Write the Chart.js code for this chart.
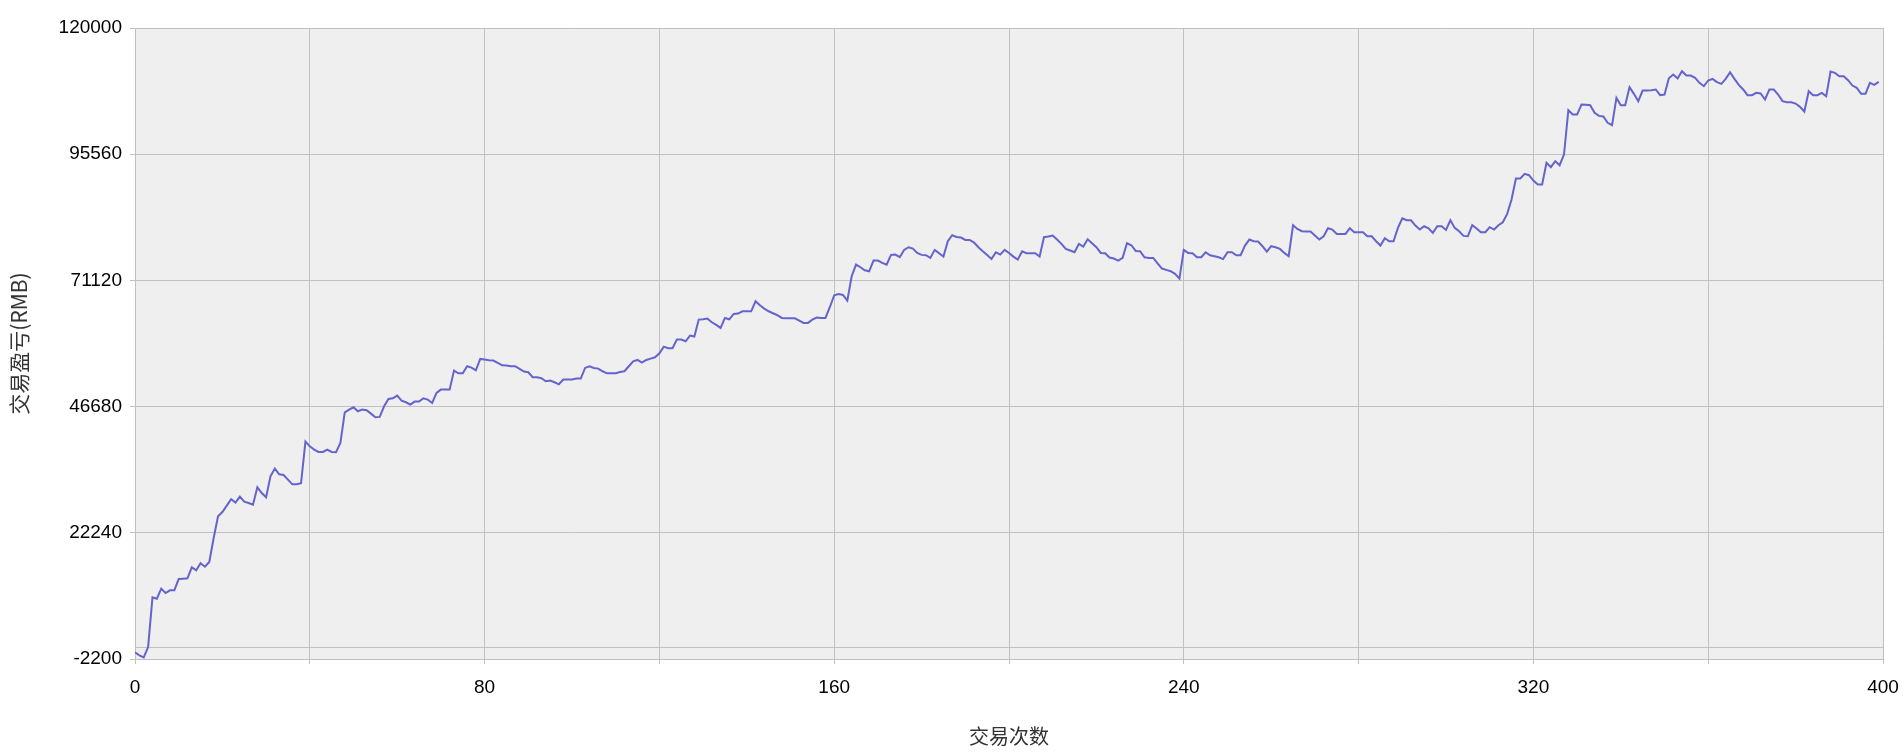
<!DOCTYPE html>
<html>
<head>
<meta charset="utf-8">
<script src="https://cdn.jsdelivr.net/npm/chart.js@4/dist/chart.umd.min.js"></script>
<style>
  html, body { margin: 0; padding: 0; background: #ffffff; }
  #wrap { width: 1904px; height: 756px; position: relative; }
</style>
</head>
<body>
<div id="wrap"><canvas id="c" width="1904" height="756"></canvas></div>
<script>
// Cumulative trade profit (RMB), one value per trade, trades 0..399
const profit = [
  -900, -1490, -1880, 120, 9740, 9480, 11420, 10580, 11100, 11100,
  13290, 13360, 13420, 15550, 14970, 16330, 15680, 16590, 21240, 25430,
  26270, 27510, 28730, 28080, 29240, 28270, 28020, 27690, 31050, 29950,
  29110, 33180, 34670, 33570, 33440, 32540, 31630, 31630, 31830, 39900,
  38990, 38350, 37890, 37890, 38350, 37890, 37830, 39640, 45580, 46100,
  46550, 45770, 46100, 45970, 45320, 44610, 44680, 46740, 48160, 48290,
  48810, 47840, 47520, 47060, 47650, 47650, 48290, 48030, 47390, 49320,
  49970, 49970, 49970, 53650, 53130, 53130, 54490, 54230, 53710, 55910,
  55780, 55650, 55590, 55140, 54680, 54620, 54490, 54490, 53970, 53460,
  53330, 52360, 52360, 52170, 51580, 51710, 51390, 51000, 51910, 51910,
  51910, 52100, 52100, 54170, 54490, 54170, 54040, 53520, 53130, 53130,
  53130, 53390, 53520, 54490, 55460, 55720, 55200, 55720, 55970, 56230,
  57010, 58300, 57980, 57980, 59660, 59660, 59330, 60430, 60240, 63530,
  63590, 63720, 63010, 62500, 61920, 63850, 63590, 64630, 64690, 65140,
  65140, 65140, 67080, 66310, 65660, 65140, 64760, 64370, 63850, 63790,
  63790, 63790, 63340, 62890, 62890, 63530, 63920, 63850, 63850, 65920,
  68240, 68500, 68310, 67210, 71920, 74180, 73670, 73090, 72890, 74960,
  74960, 74510, 74180, 76060, 76120, 75610, 77030, 77540, 77280, 76440,
  76060, 75990, 75480, 77030, 76380, 75730, 78700, 79870, 79540, 79420,
  78960, 78960, 78450, 77540, 76770, 76060, 75280, 76570, 76120, 77030,
  76440, 75730, 75150, 76770, 76380, 76380, 76380, 75730, 79480, 79610,
  79800, 79030, 78190, 77220, 76900, 76570, 78190, 77670, 79090, 78320,
  77540, 76440, 76380, 75540, 75350, 74960, 75480, 78320, 77930, 76830,
  76770, 75610, 75480, 75480, 74440, 73410, 73150, 72890, 72380, 71470,
  77030, 76440, 76380, 75610, 75610, 76570, 75990, 75800, 75610, 75250,
  76570, 76570, 75990, 75990, 77870, 79030, 78710, 78640, 77740, 76700,
  77740, 77540, 77220, 76450, 75800, 81800, 81090, 80640, 80580, 80580,
  79800, 79030, 79670, 81220, 80970, 80130, 80130, 80130, 81220, 80450,
  80450, 80450, 79670, 79670, 78710, 77870, 79290, 78710, 78710, 81290,
  83160, 82770, 82770, 81740, 80970, 81610, 81220, 80320, 81610, 81610,
  80900, 82770, 81290, 80640, 79740, 79670, 81810, 81160, 80450, 80450,
  81420, 80970, 81810, 82380, 84000, 86780, 90850, 90850, 91750, 91490,
  90460, 89680, 89680, 93880, 93040, 94200, 93430, 95490, 104080, 103240,
  103240, 105180, 105120, 105050, 103570, 102980, 102860, 101630, 101180, 106470,
  105050, 105050, 108540, 107250, 105830, 107890, 107890, 107960, 108090, 106990,
  107120, 110280, 110990, 110220, 111640, 110800, 110800, 110350, 109380, 108730,
  109830, 110150, 109510, 109180, 110150, 111440, 110150, 108990, 108090, 106990,
  106990, 107440, 107310, 106150, 108090, 108090, 107120, 105830, 105630, 105630,
  105370, 104730, 103820, 107760, 106990, 106990, 107440, 106790, 111570, 111310,
  110670, 110670, 109890, 108860, 108410, 107250, 107250, 109380, 108990, 109570
];

const yTicks = [-2200, 0, 22240, 46680, 71120, 95560, 120000];
const yLabelled = [-2200, 22240, 46680, 71120, 95560, 120000];
const xTicks = [0, 40, 80, 120, 160, 200, 240, 280, 320, 360, 400];
const xLabelled = [0, 80, 160, 240, 320, 400];
const xTitle = '交易次数';
const yTitle = '交易盈亏(RMB)';

const points = profit.map((v, i) => ({ x: i, y: v }));

const GRID = '#c0c0c0';

const plotBg = {
  id: 'plotBg',
  beforeDraw(chart) {
    const { ctx, chartArea: a } = chart;
    ctx.save();
    ctx.fillStyle = '#ffffff';
    ctx.fillRect(0, 0, chart.width, chart.height);
    ctx.fillStyle = '#efefef';
    ctx.fillRect(a.left, a.top, a.right - a.left, a.bottom - a.top);
    ctx.restore();
  }
};

new Chart(document.getElementById('c'), {
  type: 'line',
  data: {
    datasets: [{
      data: points,
      borderColor: '#6464cc',
      borderWidth: 2,
      pointRadius: 0,
      tension: 0,
      fill: false
    }]
  },
  options: {
    responsive: false,
    devicePixelRatio: 1,
    animation: false,
    layout: { padding: { left: 0, right: 21, top: 28, bottom: 0 } },
    plugins: { legend: { display: false }, tooltip: { enabled: false } },
    scales: {
      x: {
        type: 'linear',
        min: 0,
        max: 400,
        afterBuildTicks(scale) { scale.ticks = xTicks.map(v => ({ value: v })); },
        afterFit(scale) { scale.height = 97; scale.paddingLeft = 0; scale.paddingRight = 0; },
        grid: { color: GRID, lineWidth: 1, tickLength: 5, tickColor: GRID, drawTicks: true },
        border: { display: true, color: GRID },
        ticks: {
          autoSkip: false,
          maxRotation: 0,
          padding: 12,
          color: '#000000',
          font: { family: '"Liberation Sans", Arial, sans-serif', size: 19 },
          callback: (v) => xLabelled.includes(v) ? String(v) : ''
        },
        title: {
          display: true,
          text: xTitle,
          color: '#333333',
          font: { family: '"Noto Sans CJK SC", sans-serif', size: 20 },
          padding: { top: 0, bottom: 8 }
        }
      },
      y: {
        type: 'linear',
        min: -2200,
        max: 120000,
        afterBuildTicks(scale) { scale.ticks = yTicks.map(v => ({ value: v })); },
        afterFit(scale) { scale.width = 135; scale.paddingTop = 0; scale.paddingBottom = 0; },
        grid: {
          color: GRID, lineWidth: 1, tickLength: 5, drawTicks: true,
          tickColor: (ctx) => (ctx.tick && yLabelled.includes(ctx.tick.value)) ? GRID : 'rgba(0,0,0,0)'
        },
        border: { display: true, color: GRID },
        ticks: {
          autoSkip: false,
          padding: 8,
          color: '#000000',
          font: { family: '"Liberation Sans", Arial, sans-serif', size: 19 },
          callback: (v) => yLabelled.includes(v) ? String(v) : ''
        },
        title: {
          display: true,
          text: yTitle,
          color: '#333333',
          font: { family: '"Noto Sans CJK SC", sans-serif', size: 21 },
          padding: { top: 6, bottom: 0 }
        }
      }
    }
  },
  plugins: [plotBg]
});
</script>
</body>
</html>
